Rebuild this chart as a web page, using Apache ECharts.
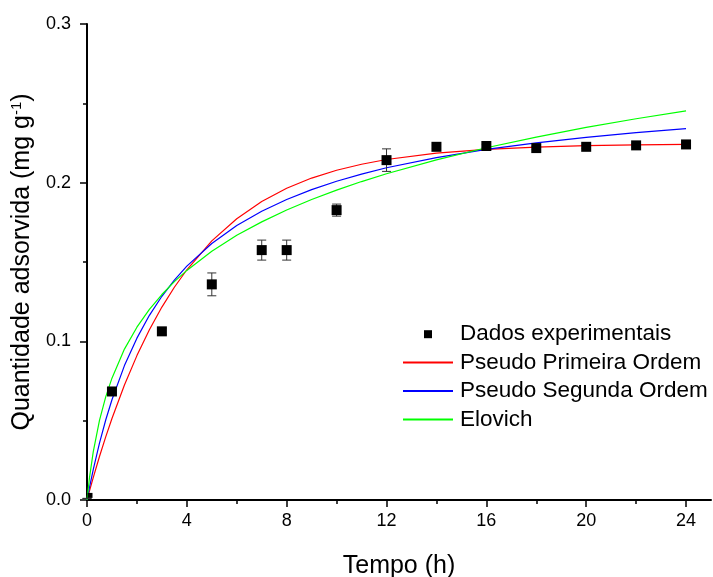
<!DOCTYPE html>
<html>
<head>
<meta charset="utf-8">
<script src="https://cdn.jsdelivr.net/npm/echarts@6/dist/echarts.min.js"></script>
<style>
html,body{margin:0;padding:0;background:#fff;}
#c{width:713px;height:577px;}
</style>
</head>
<body>
<div id="c"></div>
<script>
// Experimental data
const tData = [0, 1, 3, 5, 7, 8, 10, 12, 14, 16, 18, 20, 22, 24];
const qData = [0.001, 0.0684, 0.1063, 0.1359, 0.1575, 0.1575, 0.1827, 0.2142, 0.2226, 0.2231, 0.2218, 0.2226, 0.2235, 0.2241];
const qErr  = [0, 0.002, 0.002, 0.0072, 0.0063, 0.0063, 0.0038, 0.0071, 0.001, 0.001, 0.001, 0.001, 0.001, 0.001];

// Fitted curves
const tCurve = [0, 0.1, 0.25, 0.5, 0.75, 1, 1.5, 2, 2.5, 3, 3.5, 4, 5, 6, 7, 8, 9, 10, 11, 12, 14, 16, 18, 20, 22, 24];
const qPFO = [0, 0.0058, 0.0141, 0.0274, 0.0398, 0.0514, 0.0725, 0.0910, 0.1073, 0.1216, 0.1341, 0.1451, 0.1633, 0.1773, 0.1881, 0.1965, 0.2029, 0.2078, 0.2116, 0.2146, 0.2186, 0.2210, 0.2224, 0.2233, 0.2238, 0.2241];
const qPSO = [0, 0.0080, 0.0192, 0.0359, 0.0504, 0.0632, 0.0847, 0.1020, 0.1164, 0.1284, 0.1386, 0.1474, 0.1617, 0.1730, 0.1820, 0.1894, 0.1956, 0.2009, 0.2054, 0.2094, 0.2158, 0.2210, 0.2251, 0.2286, 0.2315, 0.2340];
const qElo = [0, 0.0141, 0.0303, 0.0502, 0.0650, 0.0768, 0.0951, 0.1089, 0.1201, 0.1295, 0.1376, 0.1447, 0.1568, 0.1668, 0.1753, 0.1828, 0.1894, 0.1953, 0.2007, 0.2056, 0.2144, 0.2220, 0.2287, 0.2348, 0.2403, 0.2453];

const xMajor = [0, 4, 8, 12, 16, 20, 24];
const xMinor = [2, 6, 10, 14, 18, 22];

const seriesNames = ['Dados experimentais', 'Pseudo Primeira Ordem', 'Pseudo Segunda Ordem', 'Elovich'];
const seriesColors = ['#000000', '#ff0000', '#0000ff', '#00ff00'];

const FONT = 'Arial, "Liberation Sans", sans-serif';

function zip(a, b) { return a.map((v, i) => [v, b[i]]); }

const scatterData = tData.map((t, i) => {
  if (i === 0) return { value: [t, qData[i]], symbolSize: 5, symbolOffset: [3, -3] };
  return [t, qData[i]];
});
const errData = tData.map((t, i) => [t, qData[i] - qErr[i], qData[i] + qErr[i]]);

const legendData = seriesNames.map((n, i) => i === 0
  ? { name: n, icon: 'path://M0,0H1V1H0Z' }
  : { name: n, itemStyle: { opacity: 0 } });

function lineSeries(i, q) {
  return {
    name: seriesNames[i], type: 'line', data: zip(tCurve, q), showSymbol: false, symbol: 'none',
    smooth: false, lineStyle: { color: seriesColors[i], width: 1.2 }, itemStyle: { color: seriesColors[i] }, z: 3
  };
}

const chart = echarts.init(document.getElementById('c'), null, { renderer: 'canvas' });
chart.setOption({
  animation: false,
  backgroundColor: '#fff',
  textStyle: { fontFamily: FONT },
  grid: { left: 87, right: 2, top: 24, bottom: 77, containLabel: false, outerBoundsMode: 'none' },
  legend: {
    orient: 'vertical',
    left: 402,
    top: 320,
    padding: 0,
    itemWidth: 50,
    itemHeight: 8,
    itemGap: 0,
    symbolKeepAspect: true,
    data: legendData,
    textStyle: { fontSize: 22.5, color: '#000', fontFamily: FONT, lineHeight: 28.4, padding: [0, 0, 0, 2] }
  },
  xAxis: [{
    type: 'value', min: 0, max: 25, interval: 4,
    name: 'Tempo (h)', nameLocation: 'middle', nameGap: 54,
    nameTextStyle: { fontSize: 25, color: '#000', fontFamily: FONT },
    axisLine: { show: true, onZero: false, lineStyle: { color: '#000', width: 2 } },
    axisTick: { show: true, inside: false, length: 7, customValues: xMajor, lineStyle: { color: '#000', width: 1.5 } },
    axisLabel: { customValues: xMajor, fontSize: 18, color: '#000', margin: 12, fontFamily: FONT },
    splitLine: { show: false }
  }, {
    type: 'value', min: 0, max: 25, position: 'bottom',
    axisLine: { show: false },
    axisTick: { show: true, inside: false, length: 4, customValues: xMinor, lineStyle: { color: '#000', width: 1.5 } },
    axisLabel: { show: false },
    splitLine: { show: false }
  }],
  yAxis: {
    type: 'value', min: 0, max: 0.3, interval: 0.1,
    name: 'Quantidade adsorvida (mg g{sup|-1})', nameLocation: 'middle', nameGap: 41,
    nameTextStyle: {
      fontSize: 25, color: '#000', fontFamily: FONT,
      rich: { sup: { fontSize: 15, color: '#000', fontFamily: FONT, padding: [0, 0, 12, 0] } }
    },
    axisLine: { show: true, lineStyle: { color: '#000', width: 2 } },
    axisTick: { show: true, inside: false, length: 7, lineStyle: { color: '#000', width: 1.5 } },
    minorTick: { show: true, splitNumber: 2, length: 4, lineStyle: { color: '#000', width: 1.5 } },
    axisLabel: { fontSize: 18, color: '#000', margin: 16, fontFamily: FONT, formatter: v => v.toFixed(1) },
    splitLine: { show: false }
  },
  series: [
    {
      name: seriesNames[0], type: 'scatter', symbol: 'rect', symbolSize: 10,
      itemStyle: { color: seriesColors[0], opacity: 1 }, data: scatterData, z: 5
    },
    lineSeries(1, qPFO),
    lineSeries(2, qPSO),
    lineSeries(3, qElo),
    {
      type: 'custom', name: 'err', z: 4, silent: true,
      data: errData,
      renderItem: function (params, api) {
        const x = api.value(0);
        const lo = api.coord([x, api.value(1)]);
        const hi = api.coord([x, api.value(2)]);
        const hw = 4.5;
        const st = { stroke: '#333', lineWidth: 1 };
        return {
          type: 'group',
          children: [
            { type: 'line', shape: { x1: lo[0], y1: lo[1], x2: hi[0], y2: hi[1] }, style: st },
            { type: 'line', shape: { x1: lo[0] - hw, y1: lo[1], x2: lo[0] + hw, y2: lo[1] }, style: st },
            { type: 'line', shape: { x1: hi[0] - hw, y1: hi[1], x2: hi[0] + hw, y2: hi[1] }, style: st }
          ]
        };
      }
    }
  ]
});
</script>
</body>
</html>
